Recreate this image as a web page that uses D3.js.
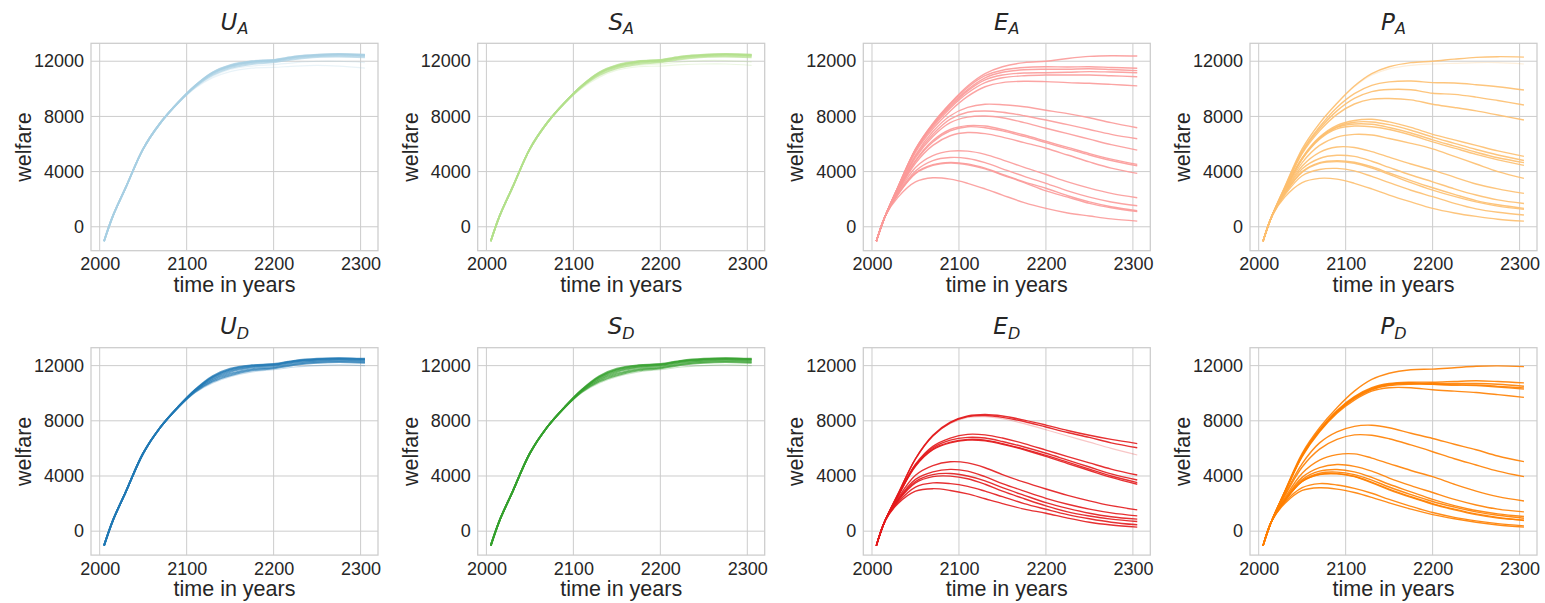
<!DOCTYPE html>
<html>
<head>
<meta charset="utf-8">
<script src="https://cdn.jsdelivr.net/npm/d3@7"></script>
<style>
  html, body { margin: 0; padding: 0; background: #fff; }
  svg { display: block; }
  text { fill: #262626; font-family: Arial, "Liberation Sans", sans-serif; }
</style>
</head>
<body>
<svg id="chart" width="1545" height="603"></svg>
<script>
// ---------------- data ----------------
const years = [2005, 2015, 2030, 2050, 2070, 2090, 2110, 2130, 2150, 2175, 2200, 2225, 2250, 2275, 2305];
const xTicks = [2000, 2100, 2200, 2300];
const yTicks = [0, 4000, 8000, 12000];
const panelLetters = ["U", "S", "E", "P", "U", "S", "E", "P"];
const panelSubs = ["A", "A", "A", "A", "D", "D", "D", "D"];
const panelColors = ["#a6cee3", "#b2df8a", "#fb9a99", "#fdbf6f", "#1f78b4", "#33a02c", "#e31a1c", "#ff7f00"];

const linesUA = [
  [-1050, 750, 2850, 5650, 7550, 9000, 10250, 11150, 11650, 11950, 12050, 12300, 12430, 12480, 12430],
  [-1050, 750, 2850, 5650, 7550, 9000, 10250, 11200, 11720, 12000, 12100, 12350, 12480, 12530, 12480],
  [-1050, 750, 2850, 5650, 7550, 9000, 10200, 11100, 11600, 11900, 12000, 12250, 12380, 12420, 12370],
  [-1050, 750, 2850, 5650, 7550, 8980, 10150, 11000, 11500, 11800, 11920, 12150, 12300, 12330, 12280],
  [-1050, 750, 2850, 5650, 7550, 9000, 10230, 11180, 11680, 11980, 12080, 12330, 12460, 12510, 12460]
];
const faintUA = [
  [-1050, 750, 2850, 5650, 7500, 8950, 10100, 10900, 11400, 11650, 11750, 11900, 12000, 12000, 11900],
  [-1050, 750, 2850, 5650, 7500, 8920, 10050, 10800, 11250, 11500, 11550, 11650, 11700, 11650, 11500]
];
const linesSA = [
  [-1050, 750, 2850, 5650, 7550, 9000, 10250, 11150, 11650, 11950, 12050, 12300, 12430, 12480, 12430],
  [-1050, 750, 2850, 5650, 7550, 9000, 10250, 11200, 11720, 12000, 12100, 12350, 12480, 12530, 12480],
  [-1050, 750, 2850, 5650, 7550, 9000, 10200, 11100, 11600, 11900, 12000, 12250, 12380, 12420, 12370],
  [-1050, 750, 2850, 5650, 7550, 8980, 10150, 11000, 11500, 11800, 11920, 12150, 12300, 12330, 12280],
  [-1050, 750, 2850, 5650, 7550, 9000, 10230, 11180, 11680, 11980, 12080, 12330, 12460, 12510, 12460]
];
const faintSA = [
  [-1050, 750, 2850, 5650, 7500, 8950, 10100, 10950, 11450, 11700, 11800, 11950, 12050, 12050, 11950],
  [-1050, 750, 2850, 5650, 7500, 8920, 10050, 10850, 11350, 11600, 11650, 11750, 11800, 11800, 11700]
];
const linesEA = [
  [-1050, 750, 2900, 5650, 7500, 8950, 10200, 11100, 11600, 11900, 12000, 12200, 12350, 12400, 12380],
  [-1050, 750, 2900, 5600, 7450, 8900, 10100, 10950, 11350, 11550, 11600, 11580, 11600, 11550, 11490],
  [-1050, 750, 2900, 5600, 7400, 8800, 9950, 10800, 11200, 11380, 11420, 11420, 11450, 11400, 11320],
  [-1050, 750, 2880, 5550, 7350, 8700, 9850, 10650, 11000, 11150, 11170, 11200, 11250, 11220, 11170],
  [-1050, 750, 2850, 5500, 7250, 8600, 9700, 10450, 10800, 10950, 11000, 11000, 11000, 10950, 10880],
  [-1050, 750, 2800, 5400, 7100, 8400, 9450, 10150, 10450, 10550, 10520, 10450, 10400, 10320, 10210],
  [-1050, 750, 2700, 5200, 6900, 8050, 8650, 8880, 8850, 8700, 8450, 8200, 7900, 7550, 7180],
  [-1050, 750, 2680, 5100, 6700, 7800, 8300, 8390, 8300, 8050, 7740, 7400, 7050, 6700, 6380],
  [-1050, 750, 2650, 5000, 6550, 7550, 7950, 8030, 7900, 7550, 7140, 6750, 6350, 5950, 5560],
  [-1050, 750, 2600, 4800, 6250, 7050, 7330, 7300, 7050, 6650, 6200, 5750, 5300, 4900, 4520],
  [-1050, 750, 2600, 4750, 6150, 6950, 7250, 7180, 6950, 6550, 6100, 5650, 5200, 4800, 4420],
  [-1050, 750, 2550, 4600, 5900, 6600, 6830, 6750, 6500, 6100, 5690, 5200, 4700, 4250, 3870],
  [-1050, 750, 2450, 4300, 5150, 5480, 5480, 5250, 4850, 4300, 3790, 3250, 2800, 2420, 2100],
  [-1050, 750, 2400, 4050, 4800, 5020, 4950, 4650, 4200, 3650, 3150, 2600, 2150, 1800, 1520],
  [-1050, 750, 2350, 3900, 4500, 4670, 4560, 4250, 3800, 3250, 2790, 2250, 1800, 1450, 1160],
  [-1050, 750, 2350, 3850, 4450, 4620, 4500, 4200, 3750, 3200, 2600, 2150, 1700, 1380, 1100],
  [-1050, 750, 2150, 3250, 3550, 3450, 3150, 2750, 2300, 1750, 1330, 1000, 780, 570, 410]
];
const faintEA = [];
const linesPA = [
  [-1050, 750, 2900, 5650, 7500, 8950, 10200, 11100, 11600, 11900, 12000, 12150, 12280, 12330, 12300],
  [-1050, 750, 2850, 5500, 7250, 8650, 9650, 10250, 10500, 10570, 10450, 10420, 10300, 10150, 9910],
  [-1050, 750, 2800, 5400, 7100, 8400, 9300, 9800, 9950, 9930, 9680, 9600, 9400, 9150, 8830],
  [-1050, 750, 2750, 5300, 6950, 8150, 8900, 9250, 9300, 9200, 8880, 8650, 8400, 8100, 7740],
  [-1050, 750, 2650, 5000, 6500, 7350, 7700, 7790, 7600, 7200, 6700, 6300, 5900, 5500, 5100],
  [-1050, 750, 2650, 4950, 6450, 7250, 7580, 7600, 7400, 7000, 6500, 6050, 5600, 5200, 4800],
  [-1050, 750, 2650, 4950, 6400, 7200, 7450, 7430, 7200, 6800, 6300, 5850, 5400, 5000, 4650],
  [-1050, 750, 2600, 4900, 6350, 7100, 7300, 7250, 7050, 6650, 6150, 5700, 5250, 4850, 4450],
  [-1050, 750, 2550, 4650, 5900, 6500, 6700, 6650, 6400, 6050, 5650, 5100, 4550, 4000, 3510],
  [-1050, 750, 2500, 4400, 5400, 5780, 5750, 5450, 5050, 4550, 4110, 3600, 3100, 2750, 2420],
  [-1050, 750, 2450, 4200, 4950, 5180, 5100, 4750, 4300, 3750, 3260, 2750, 2300, 1950, 1690],
  [-1050, 750, 2400, 4000, 4650, 4790, 4680, 4350, 3900, 3350, 2830, 2350, 1900, 1600, 1330],
  [-1050, 750, 2400, 3950, 4600, 4720, 4600, 4250, 3800, 3200, 2660, 2200, 1800, 1500, 1260],
  [-1050, 750, 2300, 3700, 4150, 4230, 4050, 3650, 3200, 2650, 2180, 1700, 1300, 1050, 850],
  [-1050, 750, 2150, 3200, 3510, 3450, 3150, 2750, 2300, 1800, 1330, 1000, 750, 550, 410]
];
const faintPA = [
  [-1050, 750, 2900, 5650, 7500, 8950, 10150, 11000, 11450, 11700, 11800, 11850, 11900, 11900, 11800]
];
const linesUD = [
  [-1050, 750, 2850, 5650, 7550, 9000, 10250, 11150, 11650, 11950, 12050, 12300, 12430, 12480, 12430],
  [-1050, 750, 2850, 5650, 7550, 9000, 10280, 11250, 11780, 12030, 12120, 12370, 12500, 12550, 12500],
  [-1050, 750, 2850, 5650, 7550, 8980, 10200, 11050, 11550, 11870, 11980, 12230, 12370, 12420, 12370],
  [-1050, 750, 2850, 5650, 7550, 8970, 10150, 10950, 11420, 11750, 11880, 12130, 12280, 12330, 12280],
  [-1050, 750, 2850, 5650, 7550, 8960, 10100, 10850, 11300, 11650, 11800, 12050, 12200, 12250, 12200],
  [-1050, 750, 2850, 5650, 7550, 9000, 10230, 11200, 11720, 12000, 12090, 12340, 12470, 12520, 12470]
];
const faintUD = [
  [-1050, 750, 2850, 5650, 7550, 8950, 10050, 10750, 11200, 11550, 11700, 11900, 12000, 12050, 12000]
];
const linesSD = [
  [-1050, 750, 2850, 5650, 7550, 9000, 10250, 11150, 11650, 11950, 12050, 12300, 12430, 12480, 12430],
  [-1050, 750, 2850, 5650, 7550, 9000, 10280, 11250, 11780, 12030, 12120, 12370, 12500, 12550, 12500],
  [-1050, 750, 2850, 5650, 7550, 8980, 10200, 11050, 11550, 11870, 11980, 12230, 12370, 12420, 12370],
  [-1050, 750, 2850, 5650, 7550, 8970, 10150, 10950, 11420, 11750, 11880, 12130, 12280, 12330, 12280],
  [-1050, 750, 2850, 5650, 7550, 8960, 10100, 10850, 11300, 11650, 11800, 12050, 12200, 12250, 12200],
  [-1050, 750, 2850, 5650, 7550, 9000, 10230, 11200, 11720, 12000, 12090, 12340, 12470, 12520, 12470]
];
const faintSD = [
  [-1050, 750, 2850, 5650, 7550, 8950, 10050, 10750, 11200, 11550, 11700, 11900, 12000, 12050, 12000]
];
const linesED = [
  [-1050, 750, 2700, 5250, 6950, 7900, 8350, 8460, 8350, 8050, 7690, 7300, 6950, 6650, 6350],
  [-1050, 750, 2700, 5250, 6900, 7850, 8300, 8380, 8250, 7950, 7550, 7150, 6800, 6400, 6050],
  [-1050, 750, 2600, 4850, 6150, 6750, 7020, 6980, 6750, 6350, 5880, 5400, 4950, 4500, 4070],
  [-1050, 750, 2600, 4800, 6050, 6600, 6800, 6750, 6500, 6100, 5650, 5150, 4650, 4150, 3710],
  [-1050, 750, 2550, 4750, 5950, 6450, 6650, 6600, 6350, 5950, 5500, 5000, 4500, 4000, 3520],
  [-1050, 750, 2550, 4700, 5900, 6400, 6600, 6550, 6300, 5900, 5420, 4900, 4400, 3900, 3400],
  [-1050, 750, 2400, 4050, 4750, 5030, 4950, 4600, 4100, 3550, 3060, 2600, 2200, 1850, 1540],
  [-1050, 750, 2300, 3750, 4300, 4480, 4350, 3950, 3450, 2900, 2380, 1950, 1600, 1330, 1110],
  [-1050, 750, 2250, 3600, 4100, 4180, 4000, 3650, 3150, 2600, 2070, 1650, 1300, 1050, 870],
  [-1050, 750, 2200, 3500, 3950, 3990, 3800, 3400, 2900, 2350, 1830, 1400, 1100, 870, 700],
  [-1050, 750, 2100, 3200, 3500, 3450, 3250, 2900, 2500, 2000, 1590, 1200, 900, 650, 460],
  [-1050, 750, 2000, 2900, 3080, 2950, 2700, 2350, 2000, 1600, 1300, 950, 650, 450, 290]
];
const faintED = [
  [-1050, 750, 2700, 5200, 6900, 7800, 8250, 8300, 8150, 7800, 7350, 6900, 6450, 6000, 5520]
];
const linesPD = [
  [-1050, 750, 2900, 5650, 7500, 8950, 10150, 11000, 11450, 11700, 11750, 11850, 11950, 11980, 11930],
  [-1050, 750, 2850, 5550, 7350, 8750, 9750, 10400, 10700, 10800, 10800, 10850, 10900, 10850, 10750],
  [-1050, 750, 2850, 5500, 7300, 8700, 9700, 10350, 10650, 10750, 10700, 10700, 10700, 10650, 10510],
  [-1050, 750, 2850, 5500, 7300, 8650, 9650, 10300, 10600, 10700, 10650, 10600, 10600, 10500, 10390],
  [-1050, 750, 2800, 5450, 7250, 8600, 9600, 10250, 10550, 10650, 10650, 10600, 10550, 10450, 10300],
  [-1050, 750, 2800, 5400, 7200, 8550, 9500, 10150, 10400, 10400, 10250, 10150, 10050, 9900, 9700],
  [-1050, 750, 2650, 4900, 6400, 7200, 7600, 7680, 7500, 7100, 6720, 6300, 5900, 5450, 5040],
  [-1050, 750, 2550, 4650, 5950, 6650, 6980, 6950, 6700, 6250, 5760, 5250, 4800, 4350, 3950],
  [-1050, 750, 2400, 4200, 5150, 5550, 5600, 5300, 4900, 4400, 3950, 3400, 2900, 2500, 2190],
  [-1050, 750, 2300, 3900, 4600, 4830, 4700, 4350, 3850, 3300, 2800, 2300, 1900, 1600, 1400],
  [-1050, 750, 2250, 3750, 4350, 4470, 4300, 3900, 3400, 2850, 2300, 1850, 1500, 1250, 1060],
  [-1050, 750, 2200, 3650, 4200, 4280, 4100, 3700, 3200, 2650, 2150, 1750, 1400, 1150, 940],
  [-1050, 750, 2200, 3600, 4120, 4180, 3980, 3550, 3050, 2500, 2000, 1600, 1250, 1000, 770],
  [-1050, 750, 2200, 3600, 4100, 4150, 3950, 3500, 3000, 2450, 1950, 1550, 1200, 950, 800],
  [-1050, 750, 2100, 3150, 3450, 3350, 3100, 2750, 2300, 1800, 1350, 1000, 750, 550, 385],
  [-1050, 750, 2000, 2950, 3150, 3050, 2800, 2450, 2050, 1600, 1200, 900, 650, 450, 290]
];
const faintPD = [];

const panelLines = [linesUA, linesSA, linesEA, linesPA, linesUD, linesSD, linesED, linesPD];
const panelFaint = [faintUA, faintSA, faintEA, faintPA, faintUD, faintSD, faintED, faintPD];

// ---------------- layout ----------------
const colLeft = [91, 477.7, 863.3, 1250];
const rowTop = [43.3, 347.7];
const axW = 287, axH = 207.4;
const gridColor = "#cccccc";

const svg = d3.select("#chart");
svg.append("rect").attr("width", 1545).attr("height", 603).attr("fill", "#fff");

const x = d3.scaleLinear().domain([1990, 2320]).range([0, axW]);
const y = d3.scaleLinear().domain([-1735, 13300]).range([axH, 0]);

const line = d3.line()
  .x((d, i) => x(years[i]))
  .y(d => y(d))
  .curve(d3.curveCatmullRom.alpha(0.5));

panelLines.forEach((lines, p) => {
  const col = p % 4, row = Math.floor(p / 4);
  const g = svg.append("g").attr("transform", `translate(${colLeft[col]},${rowTop[row]})`);
  const clipId = "clip" + p;
  g.append("clipPath").attr("id", clipId).append("rect").attr("width", axW).attr("height", axH);

  // grid
  g.append("g").selectAll("line").data(xTicks).join("line")
    .attr("x1", d => x(d)).attr("x2", d => x(d)).attr("y1", 0).attr("y2", axH)
    .attr("stroke", gridColor).attr("stroke-width", 1);
  g.append("g").selectAll("line").data(yTicks).join("line")
    .attr("y1", d => y(d)).attr("y2", d => y(d)).attr("x1", 0).attr("x2", axW)
    .attr("stroke", gridColor).attr("stroke-width", 1);

  const color = panelColors[p];
  const band = (p % 4) < 2;
  const lg = g.append("g").attr("clip-path", `url(#${clipId})`);
  lg.selectAll("path.faint").data(panelFaint[p]).join("path")
    .attr("class", "faint")
    .attr("d", line).attr("fill", "none").attr("stroke", color)
    .attr("stroke-width", 1.2).attr("stroke-opacity", 0.25);
  lg.selectAll("path.main").data(lines).join("path")
    .attr("class", "main")
    .attr("d", line).attr("fill", "none").attr("stroke", color)
    .attr("stroke-width", band ? 1.8 : 1.4).attr("stroke-opacity", band ? 0.7 : 0.9)
    .attr("stroke-linejoin", "round");

  // spines
  g.append("rect").attr("width", axW).attr("height", axH)
    .attr("fill", "none").attr("stroke", gridColor).attr("stroke-width", 1.25);

  // tick labels via axes
  const xa = g.append("g").attr("transform", `translate(0,${axH})`)
    .call(d3.axisBottom(x).tickValues(xTicks).tickSize(0).tickPadding(7).tickFormat(d3.format("d")));
  xa.select(".domain").remove();
  xa.selectAll("text").style("font-size", "18px").attr("fill", "#262626")
    .style("font-family", "Arial, 'Liberation Sans', sans-serif");

  const ya = g.append("g")
    .call(d3.axisLeft(y).tickValues(yTicks).tickSize(0).tickPadding(7).tickFormat(d3.format("d")));
  ya.select(".domain").remove();
  ya.selectAll("text").style("font-size", "18px").attr("fill", "#262626")
    .style("font-family", "Arial, 'Liberation Sans', sans-serif");

  // axis labels
  g.append("text").attr("x", axW / 2).attr("y", axH + 41)
    .attr("text-anchor", "middle").style("font-size", "21.5px").text("time in years");
  g.append("text").attr("transform", `translate(-60,${axH / 2}) rotate(-90)`)
    .attr("text-anchor", "middle").style("font-size", "21.5px").text("welfare");

  // title
  const t = g.append("text").attr("x", axW / 2).attr("y", -13.5)
    .attr("text-anchor", "middle")
    .style("font-family", "'DejaVu Sans', sans-serif").style("font-style", "italic")
    .style("font-size", "23px");
  t.append("tspan").text(panelLetters[p]);
  t.append("tspan").attr("dy", 4.5).style("font-size", "16px").text(panelSubs[p]);
});
</script>
</body>
</html>
